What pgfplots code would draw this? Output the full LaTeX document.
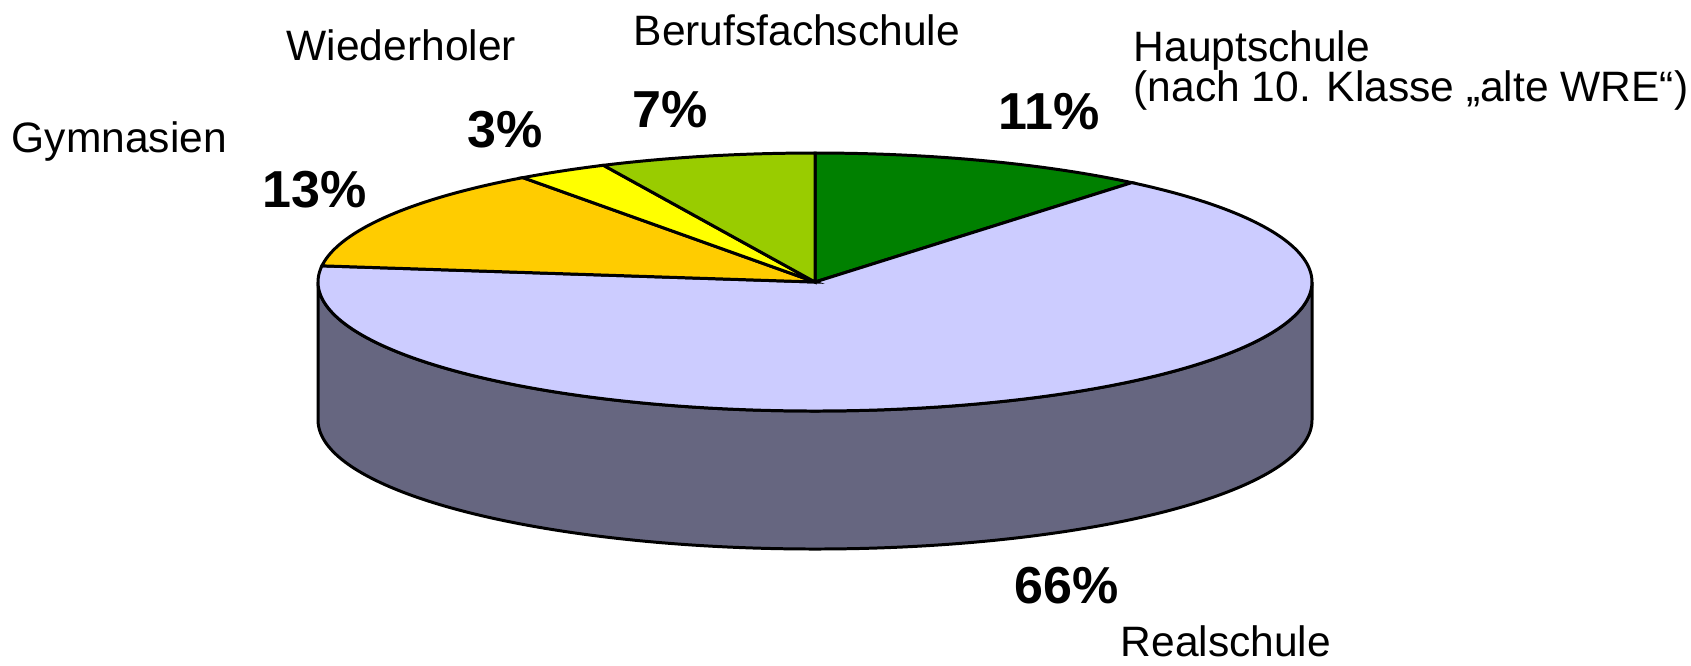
\documentclass[border=0pt]{standalone}
\usepackage{pgfplots}
\pgfplotsset{compat=1.18}
\usepackage{fontspec}
\setmainfont{Liberation Sans}
\definecolor{cHaupt}{HTML}{008000}
\definecolor{cReal}{HTML}{CCCCFF}
\definecolor{cRealSide}{HTML}{666680}
\definecolor{cGym}{HTML}{FFCC00}
\definecolor{cWied}{HTML}{FFFF00}
\definecolor{cBeruf}{HTML}{99CC00}
\newcommand{\lab}{\fontsize{12.1}{14}\selectfont}
\newcommand{\pct}{\fontsize{14.8}{17}\selectfont\bfseries}
\begin{document}
\begin{tikzpicture}
% geometry of the pie (image pixel units)
\def\cx{815}\def\cy{282}\def\rx{497}\def\ry{129}\def\dep{138}
% data: shares in percent
\def\pHaupt{11}\def\pReal{66}\def\pGym{13}\def\pWied{3}\def\pBeruf{7}
\pgfmathsetmacro\aA{90}
\pgfmathsetmacro\aB{\aA-3.6*\pHaupt}
\pgfmathsetmacro\aC{\aB-3.6*\pReal}
\pgfmathsetmacro\aD{\aC-3.6*\pGym}
\pgfmathsetmacro\aE{\aD-3.6*\pWied}
\pgfmathsetmacro\aF{\aE-3.6*\pBeruf}
\begin{axis}[scale only axis, width=169.1mm, height=66.5mm,
  xmin=0, xmax=1691, ymin=0, ymax=665, y dir=reverse,
  hide axis, clip=false]
% front side of the Realschule slice
\addplot[draw=black, line width=0.85pt, fill=cRealSide, domain=0:360, samples=361, variable=\t]
  ({\cx+\rx*cos(t)}, {\cy + (t<180.5)*\ry*sin(t) + (t>180.5)*(\dep-\ry*sin(t))}) -- cycle;
% top faces
\addplot[draw=black, line width=0.85pt, fill=cHaupt, domain=\aB:\aA, samples=40, variable=\t]
  ({\cx+\rx*cos(t)}, {\cy-\ry*sin(t)}) -- (axis cs:\cx,\cy) -- cycle;
\addplot[draw=black, line width=0.85pt, fill=cReal, domain=\aC:\aB, samples=240, variable=\t]
  ({\cx+\rx*cos(t)}, {\cy-\ry*sin(t)}) -- (axis cs:\cx,\cy) -- cycle;
\addplot[draw=black, line width=0.85pt, fill=cGym, domain=\aD:\aC, samples=50, variable=\t]
  ({\cx+\rx*cos(t)}, {\cy-\ry*sin(t)}) -- (axis cs:\cx,\cy) -- cycle;
\addplot[draw=black, line width=0.85pt, fill=cWied, domain=\aE:\aD, samples=15, variable=\t]
  ({\cx+\rx*cos(t)}, {\cy-\ry*sin(t)}) -- (axis cs:\cx,\cy) -- cycle;
\addplot[draw=black, line width=0.85pt, fill=cBeruf, domain=\aF:\aE, samples=30, variable=\t]
  ({\cx+\rx*cos(t)}, {\cy-\ry*sin(t)}) -- (axis cs:\cx,\cy) -- cycle;
% category labels
\node[anchor=base west, inner sep=0pt, font=\lab] at (axis cs:11,152) {Gymnasien};
\node[anchor=base west, inner sep=0pt, font=\lab] at (axis cs:286,60) {Wiederholer};
\node[anchor=base west, inner sep=0pt, font=\lab] at (axis cs:633,45) {Berufsfachschule};
\node[anchor=base west, inner sep=0pt, font=\lab] at (axis cs:1133,61) {Hauptschule};
\node[anchor=base west, inner sep=0pt, font=\lab] at (axis cs:1133,101) {(nach 10. Klasse „alte WRE“)};
\node[anchor=base west, inner sep=0pt, font=\lab] at (axis cs:1120,656) {Realschule};
% percentage labels
\node[anchor=base west, inner sep=0pt, font=\pct] at (axis cs:262,207) {13\%};
\node[anchor=base west, inner sep=0pt, font=\pct] at (axis cs:467,147) {3\%};
\node[anchor=base west, inner sep=0pt, font=\pct] at (axis cs:632,127) {7\%};
\node[anchor=base west, inner sep=0pt, font=\pct] at (axis cs:998,129) {11\%};
\node[anchor=base west, inner sep=0pt, font=\pct] at (axis cs:1014,603) {66\%};
\end{axis}
\pgfresetboundingbox
\path[use as bounding box] (current axis.south west) rectangle (current axis.north east);
\end{tikzpicture}
\end{document}
